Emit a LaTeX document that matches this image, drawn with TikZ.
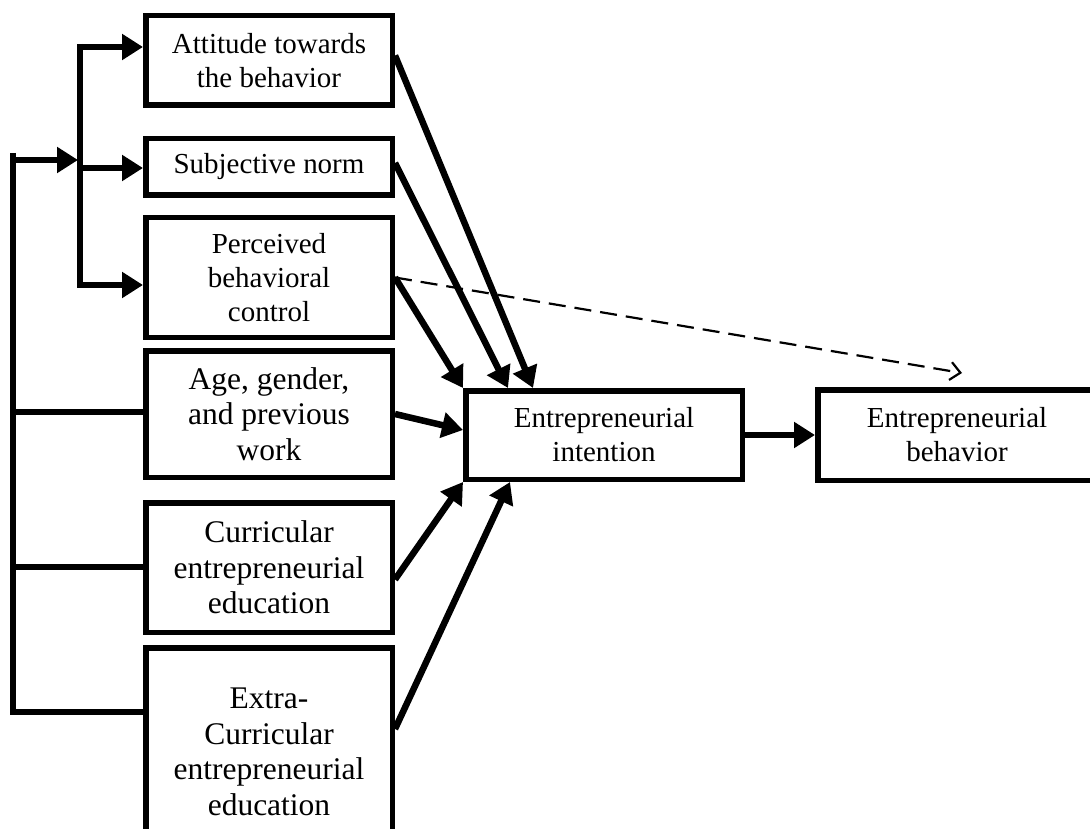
\documentclass[tikz,border=0pt]{standalone}
\usepackage{fontspec}
\setmainfont{Liberation Serif}
\usetikzlibrary{arrows.meta,calc}
\begin{document}
\begin{tikzpicture}[x=1pt,y=-1pt,
  box/.style={draw,line width=5.5pt,inner sep=0pt,align=center,
    font=\fontsize{29}{34}\selectfont},
  lbox/.style={box,minimum width=246.5pt},
  bigbox/.style={lbox,font=\fontsize{31.5}{35.5}\selectfont},
  arr/.style={line width=6.5pt,-{Triangle[length=21pt,width=25pt]}},
  bus/.style={line width=6pt},
  dasharr/.style={line width=2.2pt,dash pattern=on 17pt off 9pt,
    -{Straight Barb[length=10pt,width=18pt,line width=2.2pt]}}]
\useasboundingbox (0,0) rectangle (1090,829);
% left column boxes
\node[lbox,minimum height=89.5pt] (att) at (269,60.5) {Attitude towards\\the behavior};
\node[lbox,minimum height=56.5pt] (sub) at (269,167) {Subjective norm};
\node[lbox,minimum height=119.5pt] (per) at (269,277.5) {Perceived\\behavioral\\control};
\node[bigbox,minimum height=126.5pt] (age) at (269,414) {Age, gender,\\and previous\\work};
\node[bigbox,minimum height=129.5pt] (cur) at (269,567.5) {Curricular\\entrepreneurial\\education};
\node[bigbox,minimum height=208.5pt] (ext) at (269,752) {Extra-\\Curricular\\entrepreneurial\\education};
% right boxes
\node[box,minimum width=276.5pt,minimum height=88.5pt] (int) at (604,435) {Entrepreneurial\\intention};
\node[box,minimum width=278.5pt,minimum height=90.5pt] (beh) at (957,435) {Entrepreneurial\\behavior};
% left bus
\coordinate (b0) at (13,153);
\coordinate (b1) at (13,160);
\coordinate (b2) at (13,412);
\coordinate (b3) at (13,567);
\coordinate (b4) at (13,712);
\coordinate (j) at (78,160);
\coordinate (v0) at (80,44);
\coordinate (v1) at (80,288);
\coordinate (ja) at (80,47);
\coordinate (js) at (80,168);
\coordinate (jp) at (80,285);
\draw[bus] (b0) -- (b4) -- (b4 -| ext.west);
\draw[bus] (b2) -- (b2 -| age.west);
\draw[bus] (b3) -- (b3 -| cur.west);
\draw[arr] (b1) -- (j);
\draw[bus] (v0) -- (v1);
\draw[arr] (ja) -- (ja -| att.west);
\draw[arr] (js) -- (js -| sub.west);
\draw[arr] (jp) -- (jp -| per.west);
% arrows into intention
\draw[arr] ([yshift=5pt]att.east) -- ($(int.north west)+(70,0)$);
\draw[arr] ([yshift=4pt]sub.east) -- ($(int.north west)+(45,0)$);
\draw[arr] (per.east) -- (int.north west);
\draw[arr] (age.east) -- ([yshift=5pt]int.west);
\draw[arr] ([yshift=-12pt]cur.east) -- (int.south west);
\draw[arr] ([yshift=23pt]ext.east) -- ($(int.south west)+(47,0)$);
\draw[arr] (int.east) -- (beh.west);
% dashed
\coordinate (dend) at (962,373);
\draw[dasharr] (per.east) -- (dend);
\end{tikzpicture}
\end{document}
